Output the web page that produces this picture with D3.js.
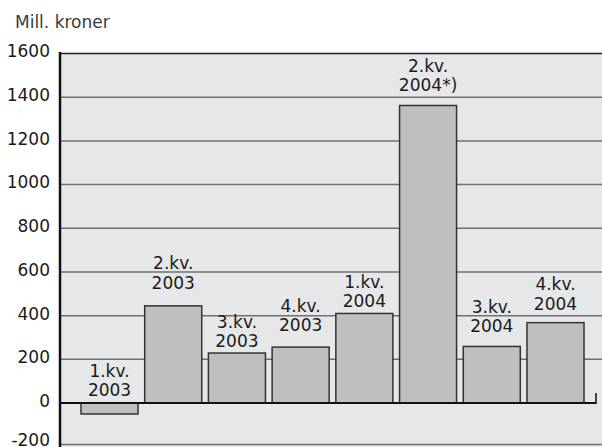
<!DOCTYPE html>
<html>
<head>
<meta charset="utf-8">
<script src="https://cdn.jsdelivr.net/npm/d3@7"></script>
<style>
body { margin: 0; background: #fff; }
svg { display: block; font-family: "DejaVu Sans", sans-serif; }
</style>
</head>
<body>
<svg width="602" height="447"></svg>
<script>
// quarters and values (mill. kroner)
var quarters = ["1.kv.", "2.kv.", "3.kv.", "4.kv.", "1.kv.", "2.kv.", "3.kv.", "4.kv."];
var years = ["2003", "2003", "2003", "2003", "2004", "2004*)", "2004", "2004"];
var values = [-50, 445, 229, 256, 410, 1362, 259, 368];
var yTicks = [-200, 0, 200, 400, 600, 800, 1000, 1200, 1400, 1600];

// label gap above bar top (px), the original places them by hand
var labelGap = [7, 17, 6, 16, 6, 14, 14, 13];

var svg = d3.select("svg");
var plotLeft = 60, plotRight = 602, plotTop = 53, plotBottom = 447;

var data = values.map(function(v, i) {
    return {q: quarters[i], yr: years[i], val: v, gap: labelGap[i]};
});

var yScale = d3.scaleLinear().domain([-200, 1600]).range([446.75, 53.5]);
var xScale = d3.scaleBand()
    .domain(d3.range(data.length))
    .range([81, 584])
    .paddingInner(0.105)
    .paddingOuter(0);

// plot background
svg.append("rect")
    .attr("x", plotLeft).attr("y", plotTop)
    .attr("width", plotRight - plotLeft).attr("height", plotBottom - plotTop)
    .attr("fill", "#e6e7e8");

// grid lines
svg.append("g")
    .selectAll("line")
    .data(yTicks.filter(function(t) { return t != 0; }))
    .enter()
    .append("line")
    .attr("x1", plotLeft).attr("x2", plotRight)
    .attr("y1", function(d) { return Math.min(yScale(d), 444.5); })
    .attr("y2", function(d) { return Math.min(yScale(d), 444.5); })
    .attr("stroke", function(d) { return d == 1600 ? "#222" : "#707070"; })
    .attr("stroke-width", 1.5);

// tick labels (plain hyphen for the minus, like the original)
var yAxis = svg.append("g")
    .attr("transform", "translate(" + plotLeft + ",0)")
    .call(d3.axisLeft(yScale).tickValues(yTicks).tickFormat(function(d) { return String(d); }).tickSize(0).tickPadding(10));
yAxis.select(".domain").remove();
yAxis.selectAll("text")
    .attr("font-family", "DejaVu Sans, sans-serif")
    .attr("font-size", 17)
    .attr("fill", "#1a1a1a")
    .attr("dy", function(d) { return d == -200 ? "-0.05em" : "0.2em"; });

svg.append("text")
    .attr("x", 15)
    .attr("y", 28)
    .attr("font-size", 17)
    .attr("fill", "#3a3a3a")
    .text("Mill. kroner");

// bars
svg.append("g")
    .selectAll("rect")
    .data(data)
    .enter()
    .append("rect")
    .attr("x", function(d, i) { return xScale(i); })
    .attr("y", function(d) { return yScale(Math.max(0, d.val)); })
    .attr("width", xScale.bandwidth())
    .attr("height", function(d) { return Math.abs(yScale(d.val) - yScale(0)); })
    .attr("fill", "#bebfc1")
    .attr("stroke", "#333")
    .attr("stroke-width", 1.5);

// bar labels
var lab = svg.append("g")
    .selectAll("text")
    .data(data)
    .enter()
    .append("text")
    .attr("text-anchor", "middle")
    .attr("font-size", 17)
    .attr("fill", "#1a1a1a")
    .attr("transform", function(d, i) {
        var base = yScale(Math.max(0, d.val)) - d.gap;
        return "translate(" + (xScale(i) + xScale.bandwidth() / 2) + "," + base + ")";
    });
lab.append("tspan").attr("x", 0).attr("y", -19.5).text(function(d) { return d.q; });
lab.append("tspan").attr("x", 0).attr("y", 0).text(function(d) { return d.yr; });

// axes lines
svg.append("line")
    .attr("x1", plotLeft).attr("x2", 596)
    .attr("y1", yScale(0)).attr("y2", yScale(0))
    .attr("stroke", "#111").attr("stroke-width", 2);
svg.append("line")
    .attr("x1", 596).attr("x2", 596)
    .attr("y1", yScale(0) + 1).attr("y2", yScale(0) - 10)
    .attr("stroke", "#111").attr("stroke-width", 1.5);
svg.append("line")
    .attr("x1", plotLeft).attr("x2", plotLeft)
    .attr("y1", plotTop - 1).attr("y2", plotBottom)
    .attr("stroke", "#111").attr("stroke-width", 2.5);
</script>
</body>
</html>
